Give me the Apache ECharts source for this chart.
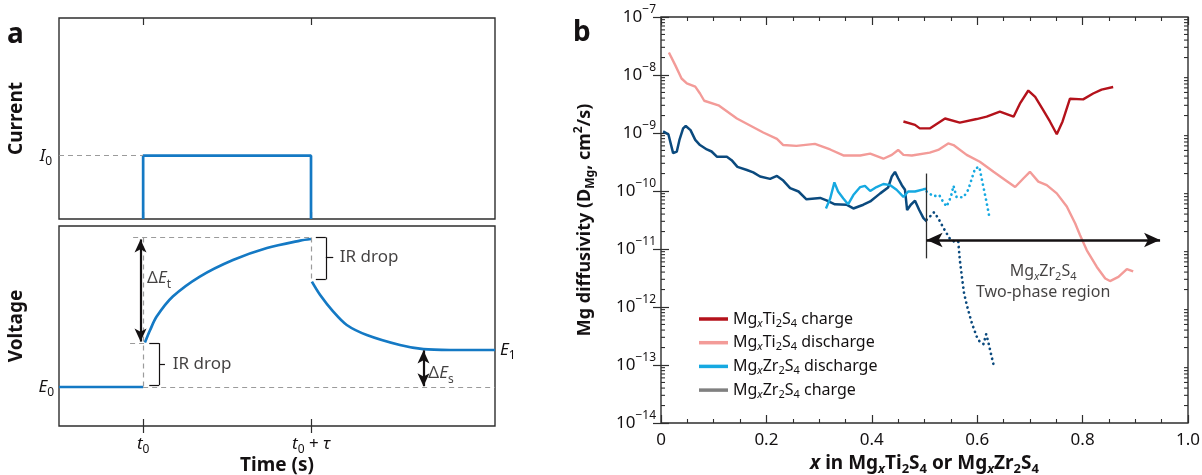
<!DOCTYPE html>
<html><head><meta charset="utf-8">
<script src="https://cdn.jsdelivr.net/npm/echarts@6.0.0/dist/echarts.min.js"></script>
<style>html,body{margin:0;padding:0;background:#fff;}#chart{width:1202px;height:475px;}</style>
</head><body><div id="chart"></div>
<script>
// ---------------- Panel a : schematic pulse (arbitrary units) ----------------
const timeTicks = [1.93, 5.78];                 // t0 , t0 + tau
const timeTickText = ['{i|t}{sub|0}', '{i|t}{sub|0} + {i|τ}'];
const currentLevel = 3.15;                      // I0
const restVoltage = 1.95;                       // E0
const finalVoltage = 3.8;                       // E1
const currentStep = [[1.93, 0], [1.93, 3.15], [5.78, 3.15], [5.78, 0]];
const voltageRest = [[0, 1.95], [1.93, 1.95]];
const voltageRise = [[1.97, 4.17], [2.09, 4.80], [2.24, 5.47], [2.61, 6.47], [3.23, 7.47], [3.99, 8.30], [4.77, 8.90], [5.53, 9.27], [5.78, 9.35]];
const voltageRelax = [[5.80, 7.22], [5.99, 6.55], [6.29, 5.72], [6.60, 5.05], [7.06, 4.55], [7.82, 4.05], [8.36, 3.84], [8.97, 3.80], [10, 3.80]];
const guideLinesA = [[[1.70, 9.43], [5.78, 9.43]], [[1.63, 4.15], [1.97, 4.15]], [[1.93, 9.43], [1.93, 1.95]], [[5.78, 9.43], [5.78, 7.22]], [[1.93, 1.95], [10, 1.95]]];
const arrowsA = [[[1.87, 9.33], [1.87, 4.22]], [[8.36, 3.78], [8.36, 1.99]]];
const bracketsA = [
  [[2.07, 4.14], [2.30, 4.14]], [[2.30, 4.14], [2.30, 2.05]], [[2.30, 2.05], [2.07, 2.05]], [[2.30, 3.10], [2.43, 3.10]],
  [[5.89, 9.43], [6.12, 9.43]], [[6.12, 9.43], [6.12, 7.33]], [[6.12, 7.33], [5.89, 7.33]], [[6.12, 8.42], [6.29, 8.42]]
];
const textsA = [
  {pos: [2.02, 7.38], text: 'Δ{i|E}{sub|t}'},
  {pos: [2.61, 3.10], text: 'IR drop'},
  {pos: [6.44, 8.42], text: 'IR drop'},
  {pos: [8.47, 2.63], text: 'Δ{i|E}{sub|s}'}
];

// ---------------- Panel b : Mg diffusivity ----------------
const xTickValues = [0, 0.2, 0.4, 0.6, 0.8, 1.0];
const yDecades = [1e-14, 1e-13, 1e-12, 1e-11, 1e-10, 1e-9, 1e-8, 1e-7];
const minorMantissa = [2, 3, 4, 5, 6, 7, 8, 9];
const tiCharge = [[0.460,1.58e-9],[0.482,1.38e-9],[0.491,1.20e-9],[0.510,1.20e-9],[0.539,1.78e-9],[0.567,1.51e-9],[0.599,1.74e-9],[0.618,1.91e-9],[0.643,2.34e-9],[0.669,1.91e-9],[0.681,3.2e-9],[0.697,5.4e-9],[0.710,4.2e-9],[0.725,2.5e-9],[0.738,1.58e-9],[0.751,9.5e-10],[0.762,1.58e-9],[0.776,3.9e-9],[0.801,3.8e-9],[0.820,4.8e-9],[0.836,5.6e-9],[0.858,6.2e-9]];
const tiDischarge = [[0.015,2.45e-8],[0.027,1.48e-8],[0.039,8.7e-9],[0.049,7.2e-9],[0.065,6.3e-9],[0.074,4.8e-9],[0.082,3.6e-9],[0.109,3.0e-9],[0.144,1.78e-9],[0.169,1.35e-9],[0.194,1.02e-9],[0.220,7.9e-10],[0.232,6.2e-10],[0.257,6.0e-10],[0.292,6.5e-10],[0.321,5.2e-10],[0.346,4.1e-10],[0.378,4.1e-10],[0.397,4.4e-10],[0.422,3.6e-10],[0.438,4.2e-10],[0.450,5.1e-10],[0.460,4.2e-10],[0.476,4.1e-10],[0.510,4.6e-10],[0.526,5.1e-10],[0.545,6.6e-10],[0.555,6.2e-10],[0.580,4.2e-10],[0.605,3.2e-10],[0.631,2.14e-10],[0.653,1.55e-10],[0.672,1.17e-10],[0.688,1.66e-10],[0.700,2.14e-10],[0.716,1.45e-10],[0.732,1.26e-10],[0.751,9.1e-11],[0.770,5.4e-11],[0.786,2.75e-11],[0.795,1.74e-11],[0.808,9.5e-12],[0.827,4.9e-12],[0.843,3.1e-12],[0.852,2.8e-12],[0.868,3.3e-12],[0.884,4.5e-12],[0.896,4.1e-12]];
const zrCharge = [[0.004,1.07e-9],[0.014,9.5e-10],[0.023,4.5e-10],[0.030,4.8e-10],[0.035,7.6e-10],[0.042,1.20e-9],[0.047,1.32e-9],[0.056,1.12e-9],[0.065,7.6e-10],[0.074,6.2e-10],[0.087,5.2e-10],[0.096,4.8e-10],[0.106,3.9e-10],[0.125,3.9e-10],[0.134,3.4e-10],[0.145,2.6e-10],[0.163,2.3e-10],[0.175,2.1e-10],[0.188,1.78e-10],[0.207,1.62e-10],[0.220,1.82e-10],[0.232,1.51e-10],[0.245,1.12e-10],[0.261,9.8e-11],[0.276,7.2e-11],[0.302,7.6e-11],[0.314,6.9e-11],[0.330,5.9e-11],[0.352,5.8e-11],[0.365,5.0e-11],[0.384,5.8e-11],[0.397,6.6e-11],[0.416,9.1e-11],[0.431,1.15e-10],[0.438,1.78e-10],[0.444,2.14e-10],[0.450,1.66e-10],[0.457,1.26e-10],[0.463,1.05e-10],[0.467,4.7e-11],[0.474,5.8e-11],[0.482,6.8e-11],[0.490,4.7e-11],[0.498,3.4e-11],[0.504,3.0e-11]];
const zrChargeTwoPhase = [[0.504,3.2e-11],[0.510,3.6e-11],[0.518,4.3e-11],[0.526,3.4e-11],[0.536,2.3e-11],[0.548,1.51e-11],[0.556,1.35e-11],[0.564,1.35e-11],[0.567,6.5e-12],[0.571,3.3e-12],[0.575,1.74e-12],[0.581,1.02e-12],[0.590,5.2e-13],[0.599,3.1e-13],[0.605,2.5e-13],[0.612,2.3e-13],[0.617,3.4e-13],[0.621,2.5e-13],[0.626,1.58e-13],[0.632,9.3e-14]];
const zrDischarge = [[0.313,5.0e-11],[0.321,7.4e-11],[0.329,1.41e-10],[0.336,9.8e-11],[0.346,7.4e-11],[0.355,5.9e-11],[0.365,8.5e-11],[0.378,1.17e-10],[0.387,1.23e-10],[0.397,1.0e-10],[0.409,1.17e-10],[0.422,1.32e-10],[0.435,1.26e-10],[0.447,1.05e-10],[0.460,7.9e-11],[0.469,9.8e-11],[0.482,9.8e-11],[0.498,1.07e-10],[0.504,1.10e-10]];
const zrDischargeTwoPhase = [[0.504,9.8e-11],[0.517,8.1e-11],[0.528,8.5e-11],[0.535,6.6e-11],[0.542,5.4e-11],[0.550,7.9e-11],[0.555,1.23e-10],[0.561,7.8e-11],[0.574,7.8e-11],[0.583,1.05e-10],[0.590,1.66e-10],[0.596,2.45e-10],[0.604,2.6e-10],[0.609,1.55e-10],[0.617,6.9e-11],[0.623,3.6e-11]];
const twoPhaseBoundary = [[0.504, 2.0e-10], [0.504, 6.9e-12]];
const twoPhaseArrow = [[0.504, 1.43e-11], [0.947, 1.43e-11]];
const twoPhaseText = [{pos: [0.725, 4.1e-12], text: 'Mg{si|x}Zr{sub|2}S{sub|4}'}, {pos: [0.725, 1.75e-12], text: 'Two-phase region'}];
const legendText = {
  'Ti charge': 'Mg{si|x}Ti{sub|2}S{sub|4} charge',
  'Ti discharge': 'Mg{si|x}Ti{sub|2}S{sub|4} discharge',
  'Zr discharge': 'Mg{si|x}Zr{sub|2}S{sub|4} discharge',
  'Zr charge': 'Mg{si|x}Zr{sub|2}S{sub|4} charge'
};

// ---------------- styling ----------------
const FONT = 'Noto Sans';
const TXT = '#141112';
const BLUE = '#1479c4';
const GUIDE = '#9b9b9b';
const C_TIC = '#b4121b', C_TID = '#f39b98', C_ZRD = '#16a9e1', C_ZRC = '#0b4a7e', C_LEG_ZRC = '#808080';

function mkRich(size, bold, lh, subScale) {
  const w = bold ? 'bold' : 'normal';
  const s = Math.round(size * (subScale || 0.68));
  return {
    i: {fontFamily: FONT, fontSize: size, fontStyle: 'italic', fontWeight: w, color: TXT, lineHeight: lh},
    sub: {fontFamily: FONT, fontSize: s, fontWeight: w, color: TXT, verticalAlign: 'bottom', lineHeight: s + 2},
    si: {fontFamily: FONT, fontSize: s, fontStyle: 'italic', fontWeight: w, color: TXT, verticalAlign: 'bottom', lineHeight: s + 2},
    sup: {fontFamily: FONT, fontSize: s, fontWeight: w, color: TXT, verticalAlign: 'top', lineHeight: s + 2}
  };
}
function txt(size, bold, lh, subScale) {
  return {fontFamily: FONT, fontSize: size, fontWeight: bold ? 'bold' : 'normal', color: TXT, lineHeight: lh, rich: mkRich(size, bold, lh, subScale)};
}
const frame = {show: true, borderColor: '#2e2e2e', borderWidth: 1.4, backgroundColor: 'transparent', containLabel: false, outerBoundsMode: 'none'};
const tickStyle = {lineStyle: {color: '#2e2e2e', width: 1.2}};

function segs(list, style, sym) {
  return list.map(s => [
    {coord: s[0], symbol: sym || 'none', lineStyle: style},
    {coord: s[1], symbol: sym || 'none'}
  ]);
}
function textPoints(list) {
  return list.map(d => ({value: d.pos, label: {formatter: d.text}}));
}

const minorData = [];
yDecades.slice(0, -1).forEach(d => minorMantissa.forEach(m => minorData.push([0, m * d])));

const option = {
  animation: false,
  backgroundColor: '#fff',
  textStyle: {fontFamily: FONT},
  grid: [
    Object.assign({left: 59, top: 18, width: 436, height: 201}, frame),
    Object.assign({left: 59, top: 226, width: 436, height: 200}, frame),
    Object.assign({left: 661, top: 17, width: 527, height: 406}, frame)
  ],
  xAxis: [
    {gridIndex: 0, type: 'value', min: 0, max: 10, position: 'bottom', axisLine: {show: false}, splitLine: {show: false},
      axisTick: Object.assign({show: true, inside: true, length: 7, customValues: timeTicks}, tickStyle), axisLabel: {show: false}},
    {gridIndex: 0, type: 'value', min: 0, max: 10, position: 'top', axisLine: {show: false}, splitLine: {show: false},
      axisTick: Object.assign({show: true, inside: true, length: 7, customValues: timeTicks}, tickStyle), axisLabel: {show: false}},
    {gridIndex: 1, type: 'value', min: 0, max: 10, position: 'bottom', axisLine: {show: false}, splitLine: {show: false},
      axisTick: Object.assign({show: true, inside: true, length: 7, customValues: timeTicks}, tickStyle),
      axisLabel: Object.assign({show: true, margin: 6, customValues: timeTicks,
        formatter: v => timeTickText[timeTicks.findIndex(t => Math.abs(t - v) < 1e-6)]}, txt(17, false, 24)),
      name: 'Time (s)', nameLocation: 'middle', nameGap: 28, nameMoveOverlap: false, nameTextStyle: txt(19, true, 24)},
    {gridIndex: 1, type: 'value', min: 0, max: 10, position: 'top', axisLine: {show: false}, splitLine: {show: false},
      axisTick: Object.assign({show: true, inside: true, length: 7, customValues: timeTicks}, tickStyle), axisLabel: {show: false}},
    {gridIndex: 2, type: 'value', min: 0, max: 1, interval: 0.2, position: 'bottom', axisLine: {show: false}, splitLine: {show: false},
      axisTick: Object.assign({show: true, inside: true, length: 8}, tickStyle),
      minorTick: {show: true, splitNumber: 4, length: 4, lineStyle: {color: '#2e2e2e', width: 1.1}},
      axisLabel: Object.assign({show: true, margin: 7, customValues: xTickValues, formatter: v => v === 0 ? '0' : v.toFixed(1)}, txt(17, false, 20)),
      name: '{i|x} in Mg{si|x}Ti{sub|2}S{sub|4} or Mg{si|x}Zr{sub|2}S{sub|4}', nameLocation: 'middle', nameGap: 29, nameMoveOverlap: false,
      nameTextStyle: txt(19, true, 24)},
    {gridIndex: 2, type: 'value', min: 0, max: 1, interval: 0.2, position: 'top', axisLine: {show: false}, splitLine: {show: false},
      axisTick: Object.assign({show: true, inside: true, length: 8}, tickStyle),
      minorTick: {show: true, splitNumber: 4, length: 4, lineStyle: {color: '#2e2e2e', width: 1.1}},
      axisLabel: {show: false}}
  ],
  yAxis: [
    {gridIndex: 0, type: 'value', min: 0, max: 10, axisLine: {show: false}, splitLine: {show: false}, axisTick: {show: false},
      axisLabel: Object.assign({show: true, margin: 7, customValues: [currentLevel], formatter: () => '{i|I}{sub|0}'}, txt(17, false, 24)),
      name: 'Current', nameLocation: 'middle', nameRotate: 90, nameGap: 30, nameMoveOverlap: false, nameTextStyle: txt(19, true, 24)},
    {gridIndex: 1, type: 'value', min: 0, max: 10, position: 'left', axisLine: {show: false}, splitLine: {show: false}, axisTick: {show: false},
      axisLabel: Object.assign({show: true, margin: 5, customValues: [restVoltage], formatter: () => '{i|E}{sub|0}'}, txt(17, false, 24)),
      name: 'Voltage', nameLocation: 'middle', nameRotate: 90, nameGap: 30, nameMoveOverlap: false, nameTextStyle: txt(19, true, 24)},
    {gridIndex: 1, type: 'value', min: 0, max: 10, position: 'right', axisLine: {show: false}, splitLine: {show: false}, axisTick: {show: false},
      axisLabel: Object.assign({show: true, margin: 5, customValues: [finalVoltage], formatter: () => '{i|E}{sub|1}'}, txt(17, false, 24))},
    {gridIndex: 2, type: 'log', logBase: 10, min: 1e-14, max: 1e-7, position: 'left', axisLine: {show: false}, splitLine: {show: false},
      axisTick: Object.assign({show: true, inside: true, length: 8, customValues: yDecades}, tickStyle),
      axisLabel: Object.assign({show: true, margin: 5, customValues: yDecades,
        formatter: v => '10{sup|−' + Math.abs(Math.round(Math.log10(v))) + '}'}, txt(17, false, 26, 0.72)),
      name: 'Mg diffusivity (D{sub|Mg}, cm{sup|2}/s)', nameLocation: 'middle', nameRotate: 90, nameGap: 64, nameMoveOverlap: false,
      nameTextStyle: txt(18, true, 24)},
    {gridIndex: 2, type: 'log', logBase: 10, min: 1e-14, max: 1e-7, position: 'right', axisLine: {show: false}, splitLine: {show: false},
      axisTick: Object.assign({show: true, inside: true, length: 8, customValues: yDecades}, tickStyle), axisLabel: {show: false}}
  ],
  legend: {
    left: 694, top: 304, orient: 'vertical', icon: 'rect', itemWidth: 29, itemHeight: 3.5, itemGap: 3.7,
    data: [
      {name: 'Ti charge', itemStyle: {color: C_TIC}},
      {name: 'Ti discharge', itemStyle: {color: C_TID}},
      {name: 'Zr discharge', itemStyle: {color: C_ZRD}},
      {name: 'Zr charge', itemStyle: {color: C_LEG_ZRC}}
    ],
    formatter: n => legendText[n],
    textStyle: txt(16, false, 20),
    selectedMode: false
  },
  graphic: [
    {type: 'text', left: 7, top: 21, style: {text: 'a', fontFamily: FONT, fontSize: 28, fontWeight: 'bold', fill: TXT}},
    {type: 'text', left: 573, top: 19, style: {text: 'b', fontFamily: FONT, fontSize: 28, fontWeight: 'bold', fill: TXT}}
  ],
  series: [
    // panel a
    {type: 'line', xAxisIndex: 0, yAxisIndex: 0, data: currentStep, symbol: 'none', lineStyle: {color: BLUE, width: 2.7}, z: 3,
      markLine: {silent: true, symbol: 'none', label: {show: false}, data: segs([[[0, currentLevel], [timeTicks[0], currentLevel]]], {color: GUIDE, width: 1.2, type: [5, 4]})}},
    {type: 'line', xAxisIndex: 2, yAxisIndex: 1, data: voltageRest, symbol: 'none', lineStyle: {color: BLUE, width: 2.7}, z: 3,
      markLine: {silent: true, symbol: 'none', label: {show: false}, data: segs(guideLinesA, {color: GUIDE, width: 1.2, type: [5, 4]})}},
    {type: 'line', xAxisIndex: 2, yAxisIndex: 1, data: voltageRise, symbol: 'none', smooth: 0.3, lineStyle: {color: BLUE, width: 2.7}, z: 3,
      markLine: {silent: true, symbol: 'none', symbolSize: [9, 13], label: {show: false}, data: segs(arrowsA, {color: TXT, width: 2.2, type: 'solid'}, 'arrow')}},
    {type: 'line', xAxisIndex: 2, yAxisIndex: 1, data: voltageRelax, symbol: 'none', smooth: 0.3, lineStyle: {color: BLUE, width: 2.7}, z: 3,
      markLine: {silent: true, symbol: 'none', label: {show: false}, data: segs(bracketsA, {color: TXT, width: 1.2, type: 'solid'})}},
    {type: 'scatter', xAxisIndex: 2, yAxisIndex: 1, symbolSize: 0, silent: true, data: textPoints(textsA),
      label: Object.assign({show: true, position: [0, 0], align: 'left', verticalAlign: 'middle'}, txt(17, false, 24))},
    // panel b
    {name: 'Ti charge', type: 'line', xAxisIndex: 4, yAxisIndex: 3, data: tiCharge, symbol: 'none', lineStyle: {color: C_TIC, width: 2.4}},
    {name: 'Ti discharge', type: 'line', xAxisIndex: 4, yAxisIndex: 3, data: tiDischarge, symbol: 'none', lineStyle: {color: C_TID, width: 2.4}},
    {name: 'Zr charge', type: 'line', xAxisIndex: 4, yAxisIndex: 3, data: zrCharge, symbol: 'none', lineStyle: {color: C_ZRC, width: 2.5},
      markLine: {silent: true, symbol: 'none', symbolSize: [11, 16], label: {show: false},
        data: segs([twoPhaseBoundary], {color: '#2e2e2e', width: 1.3, type: 'solid'}).concat(segs([twoPhaseArrow], {color: TXT, width: 2.6, type: 'solid'}, 'arrow'))}},
    {name: 'Zr charge two-phase', type: 'line', xAxisIndex: 4, yAxisIndex: 3, data: zrChargeTwoPhase, symbol: 'none',
      lineStyle: {color: C_ZRC, width: 2.7, type: [0.1, 5], cap: 'round'}},
    {name: 'Zr discharge', type: 'line', xAxisIndex: 4, yAxisIndex: 3, data: zrDischarge, symbol: 'none', lineStyle: {color: C_ZRD, width: 2.4}},
    {name: 'Zr discharge two-phase', type: 'line', xAxisIndex: 4, yAxisIndex: 3, data: zrDischargeTwoPhase, symbol: 'none',
      lineStyle: {color: C_ZRD, width: 2.7, type: [0.1, 5], cap: 'round'}},
    {type: 'scatter', xAxisIndex: 4, yAxisIndex: 3, symbolSize: 0, silent: true, data: textPoints(twoPhaseText),
      label: Object.assign({show: true, position: [0, 0], align: 'center', verticalAlign: 'middle'}, txt(16, false, 22))},
    {type: 'custom', xAxisIndex: 4, yAxisIndex: 3, silent: true, data: minorData, encode: {x: 0, y: 1}, clip: false,
      renderItem: (params, api) => {
        const v = api.value(1);
        const p0 = api.coord([0, v]);
        const p1 = api.coord([1, v]);
        return {type: 'group', children: [
          {type: 'line', shape: {x1: p0[0], y1: p0[1], x2: p0[0] + 4, y2: p0[1]}, style: {stroke: '#2e2e2e', lineWidth: 1.1}},
          {type: 'line', shape: {x1: p1[0] - 4, y1: p1[1], x2: p1[0], y2: p1[1]}, style: {stroke: '#2e2e2e', lineWidth: 1.1}}
        ]};
      }}
  ]
};
const chart = echarts.init(document.getElementById('chart'));
chart.setOption(option);
</script>
</body></html>
